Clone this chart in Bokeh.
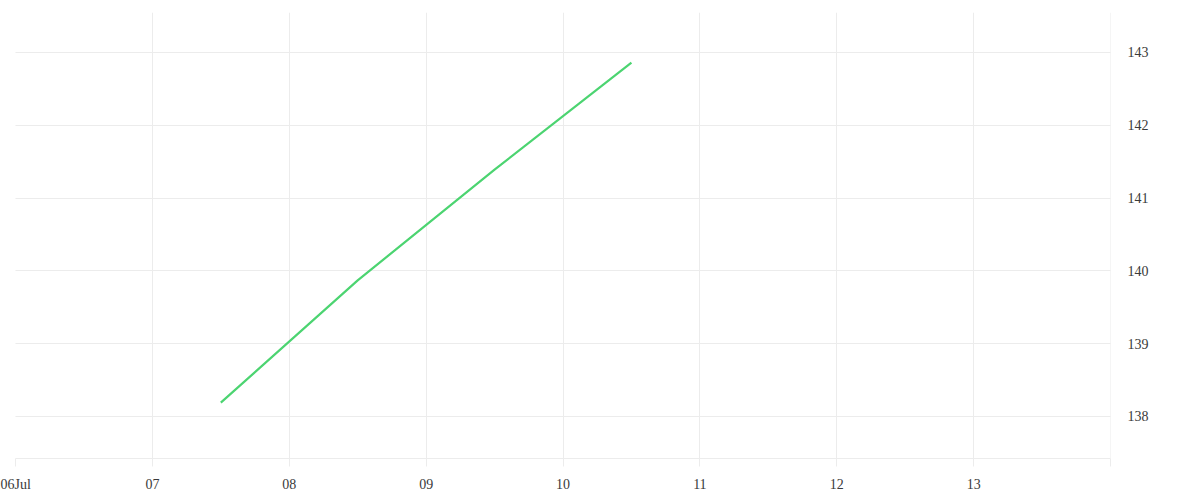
from datetime import datetime
from bokeh.plotting import figure
from bokeh.models import Range1d, FixedTicker, LinearAxis, DatetimeAxis, Grid, Span
from bokeh.embed import file_html
from bokeh.resources import INLINE

# data
dates = ["2023-07-07 12:00", "2023-07-08 12:00", "2023-07-09 12:00", "2023-07-10 12:00"]
values = [138.19, 139.87, 141.39, 142.86]
x_ticks = ["2023-07-06", "2023-07-07", "2023-07-08", "2023-07-09", "2023-07-10",
           "2023-07-11", "2023-07-12", "2023-07-13", "2023-07-14"]
x_tick_labels = ["06Jul", "07", "08", "09", "10", "11", "12", "13", ""]
y_ticks = [138, 139, 140, 141, 142, 143]

def ms(s):
    return datetime.fromisoformat(s).timestamp() * 1000.0

xs = [datetime.fromisoformat(d) for d in dates]
tick_ms = [ms(t) for t in x_ticks]

GRID = "#ececec"
TEXT = "#3a3a3a"
FONT = "Liberation Serif"

p = figure(width=1184, height=484, frame_width=1095, frame_height=446,
           x_axis_type=None, y_axis_location=None,
           x_range=Range1d(tick_ms[0], tick_ms[-1]),
           y_range=Range1d(137.423, 143.549),
           output_backend="svg", toolbar_location=None,
           min_border_left=15, min_border_top=12, min_border_right=10, min_border_bottom=10)
p.outline_line_color = None
p.background_fill_color = "white"
p.border_fill_color = "white"

xaxis = DatetimeAxis(ticker=FixedTicker(ticks=tick_ms))
xaxis.major_label_overrides = {t: l for t, l in zip(tick_ms, x_tick_labels)}
xaxis.axis_line_color = GRID
xaxis.major_tick_line_color = GRID
xaxis.major_tick_out = 8
xaxis.major_tick_in = 0
xaxis.minor_tick_line_color = None
xaxis.major_label_standoff = 10
xaxis.major_label_text_font = FONT
xaxis.major_label_text_font_size = "14px"
xaxis.major_label_text_color = TEXT
p.add_layout(xaxis, "below")

yaxis = LinearAxis(ticker=FixedTicker(ticks=y_ticks))
yaxis.axis_line_color = None
yaxis.major_tick_line_color = None
yaxis.major_tick_out = 0
yaxis.major_tick_in = 0
yaxis.minor_tick_line_color = None
yaxis.major_label_standoff = 17
yaxis.major_label_text_font = FONT
yaxis.major_label_text_font_size = "14px"
yaxis.major_label_text_color = TEXT
p.add_layout(yaxis, "right")

p.add_layout(Grid(dimension=0, ticker=FixedTicker(ticks=tick_ms), grid_line_color=GRID))
p.add_layout(Grid(dimension=1, ticker=FixedTicker(ticks=y_ticks), grid_line_color=GRID))
p.add_layout(Span(location=tick_ms[-1], dimension="height", line_color=GRID, line_width=1))

p.line(xs, values, line_color="#4cd471", line_width=2.2)

open("out.html", "w").write(file_html(p, INLINE))
